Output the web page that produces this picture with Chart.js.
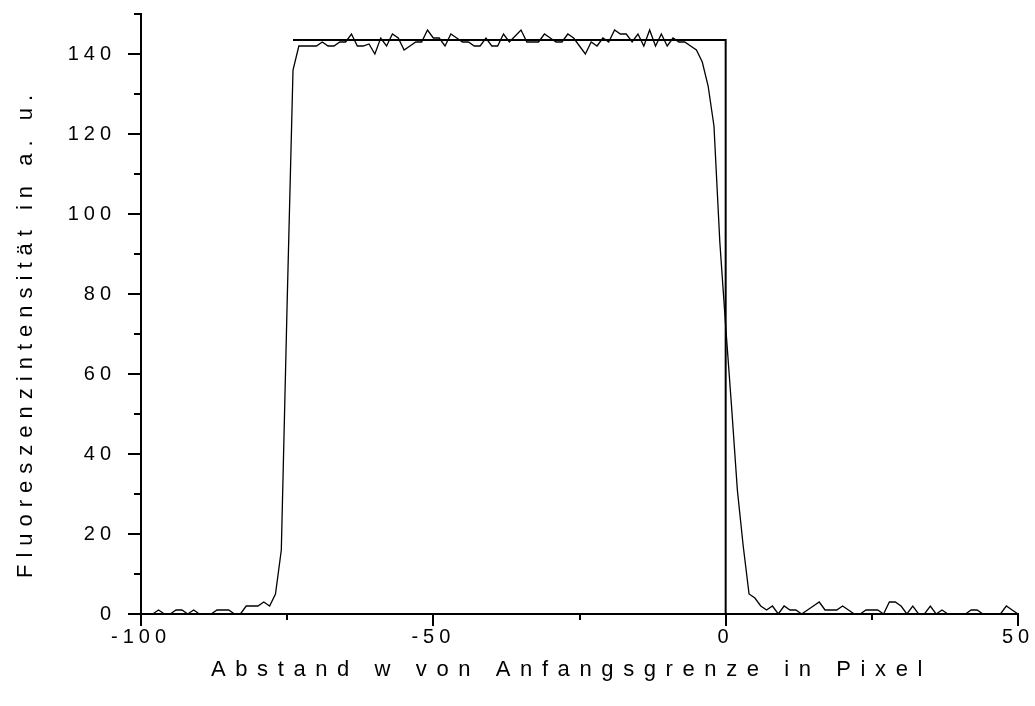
<!DOCTYPE html>
<html>
<head>
<meta charset="utf-8">
<script src="https://cdn.jsdelivr.net/npm/chart.js@4/dist/chart.umd.min.js"></script>
<style>
  html, body { margin: 0; padding: 0; background: #fff; }
  canvas { display: block; }
</style>
</head>
<body>
<canvas id="profilChart" width="1035" height="706"></canvas>
<script>
// Abstand in Pixel, von -100 bis 50
const abstand = [];
for (let w = -100; w <= 50; w++) abstand.push(w);

// gemessene Fluoreszenzintensitaet (a. u.) je Pixel
const intensitaet = [
  0, 0, 0, 1, 0, 0, 1, 1, 0, 1,            // -100 .. -91
  0, 0, 0, 1, 1, 1, 0, 0, 2, 2,            // -90 .. -81
  2, 3, 2, 5, 16, 78, 136, 142, 142, 142,  // -80 .. -71
  142, 143, 142, 142, 143, 143, 145, 142, 142, 142.5, // -70 .. -61
  140, 144, 142, 145, 144, 141, 142, 143, 143, 146,   // -60 .. -51
  144, 144, 142, 145, 144, 143, 143, 142, 142, 144,   // -50 .. -41
  142, 142, 145, 143, 144.5, 146, 143, 143, 143, 145, // -40 .. -31
  144, 143, 143, 145, 144, 142, 140, 143, 142, 144,   // -30 .. -21
  143, 146, 145, 145, 143, 145, 142, 146, 142, 145,   // -20 .. -11
  142, 144, 143, 143, 142, 141, 138, 132, 122, 93,    // -10 .. -1
  72, 52, 31, 17, 5, 4, 2, 1, 2, 0,        // 0 .. 9
  2, 1, 1, 0, 1, 2, 3, 1, 1, 1,            // 10 .. 19
  2, 1, 0, 0, 1, 1, 1, 0, 3, 3,            // 20 .. 29
  2, 0, 2, 0, 0, 2, 0, 1, 0, 0,            // 30 .. 39
  0, 0, 1, 1, 0, 0, 0, 0, 2, 1,            // 40 .. 49
  0                                        // 50
];

// idealisierte Stufe: Plateau von -74 bis zur Anfangsgrenze bei 0
const stufeX = [-74, 0, 0];
const stufeY = [143.5, 143.5, 0];

const xTicks = { min: -100, max: 50, step: 25, labelEvery: 50 };
const yTicks = { min: 0, max: 150, step: 10, labelEvery: 20 };

const xTitel = 'Abstand w von Anfangsgrenze in Pixel';
const yTitel = 'Fluoreszenzintensität in a. u.';

const schrift = '"Liberation Sans", Arial, Helvetica, sans-serif';
Chart.defaults.font.family = schrift;
Chart.defaults.font.size = 20;
Chart.defaults.color = '#000';

const sperrung = '5px';

// Achsenstriche (lang/kurz) und Achsentitel mit Sperrung selbst zeichnen
const achsenPlugin = {
  id: 'achsen',
  beforeUpdate(chart) {
    chart.ctx.letterSpacing = sperrung;
  },
  beforeDraw(chart) {
    const ctx = chart.ctx;
    ctx.save();
    ctx.fillStyle = 'white';
    ctx.fillRect(0, 0, chart.width, chart.height);
    ctx.restore();
    ctx.letterSpacing = sperrung;
  },
  afterDraw(chart) {
    const { ctx, chartArea, scales: { x, y } } = chart;
    ctx.save();
    ctx.strokeStyle = '#000';
    ctx.lineWidth = 2;
    ctx.beginPath();
    x.ticks.forEach(t => {
      const px = Math.round(x.getPixelForValue(t.value));
      const len = t.value % xTicks.labelEvery === 0 ? 12 : 6;
      ctx.moveTo(px, chartArea.bottom);
      ctx.lineTo(px, chartArea.bottom + len);
    });
    y.ticks.forEach(t => {
      const py = Math.round(y.getPixelForValue(t.value));
      const len = t.value % yTicks.labelEvery === 0 ? 13 : 7;
      ctx.moveTo(chartArea.left - len, py);
      ctx.lineTo(chartArea.left, py);
    });
    ctx.stroke();

    ctx.fillStyle = '#000';
    ctx.font = '22px ' + schrift;
    ctx.letterSpacing = '9.6px';
    ctx.textAlign = 'center';
    ctx.textBaseline = 'alphabetic';
    ctx.fillText(xTitel, (chartArea.left + chartArea.right) / 2 - 8, 676);

    ctx.letterSpacing = '7px';
    ctx.translate(32, 333);
    ctx.rotate(-Math.PI / 2);
    ctx.fillText(yTitel, 0, 0);
    ctx.restore();
  }
};

new Chart(document.getElementById('profilChart'), {
  type: 'line',
  data: {
    datasets: [
      {
        label: 'Profil',
        data: abstand.map((w, i) => ({ x: w, y: intensitaet[i] })),
        borderColor: '#000',
        borderWidth: 1.3,
        pointRadius: 0,
        tension: 0,
        fill: false
      },
      {
        label: 'Stufe',
        data: stufeX.map((w, i) => ({ x: w, y: stufeY[i] })),
        borderColor: '#000',
        borderWidth: 2,
        pointRadius: 0,
        tension: 0,
        fill: false
      }
    ]
  },
  options: {
    responsive: false,
    animation: false,
    events: [],
    layout: { padding: { left: 0, top: 14, right: 17, bottom: 0 } },
    plugins: {
      legend: { display: false },
      tooltip: { enabled: false }
    },
    scales: {
      x: {
        type: 'linear',
        min: xTicks.min,
        max: xTicks.max,
        grid: { display: false },
        border: { display: true, color: '#000', width: 2 },
        ticks: {
          stepSize: xTicks.step,
          padding: 3,
          maxRotation: 0,
          autoSkip: false,
          callback: v => (v % xTicks.labelEvery === 0 ? String(v) : '')
        },
        afterFit: s => {
          s.height = 92;
          s.paddingLeft = 0;
          s.paddingRight = 0;
        }
      },
      y: {
        type: 'linear',
        min: yTicks.min,
        max: yTicks.max,
        grid: { display: false },
        border: { display: true, color: '#000', width: 2 },
        ticks: {
          stepSize: yTicks.step,
          padding: 17,
          autoSkip: false,
          callback: v => (v % yTicks.labelEvery === 0 ? String(v) : '')
        },
        afterFit: s => {
          s.width = 141;
          s.paddingTop = 0;
          s.paddingBottom = 0;
        }
      }
    }
  },
  plugins: [achsenPlugin]
});
</script>
</body>
</html>
